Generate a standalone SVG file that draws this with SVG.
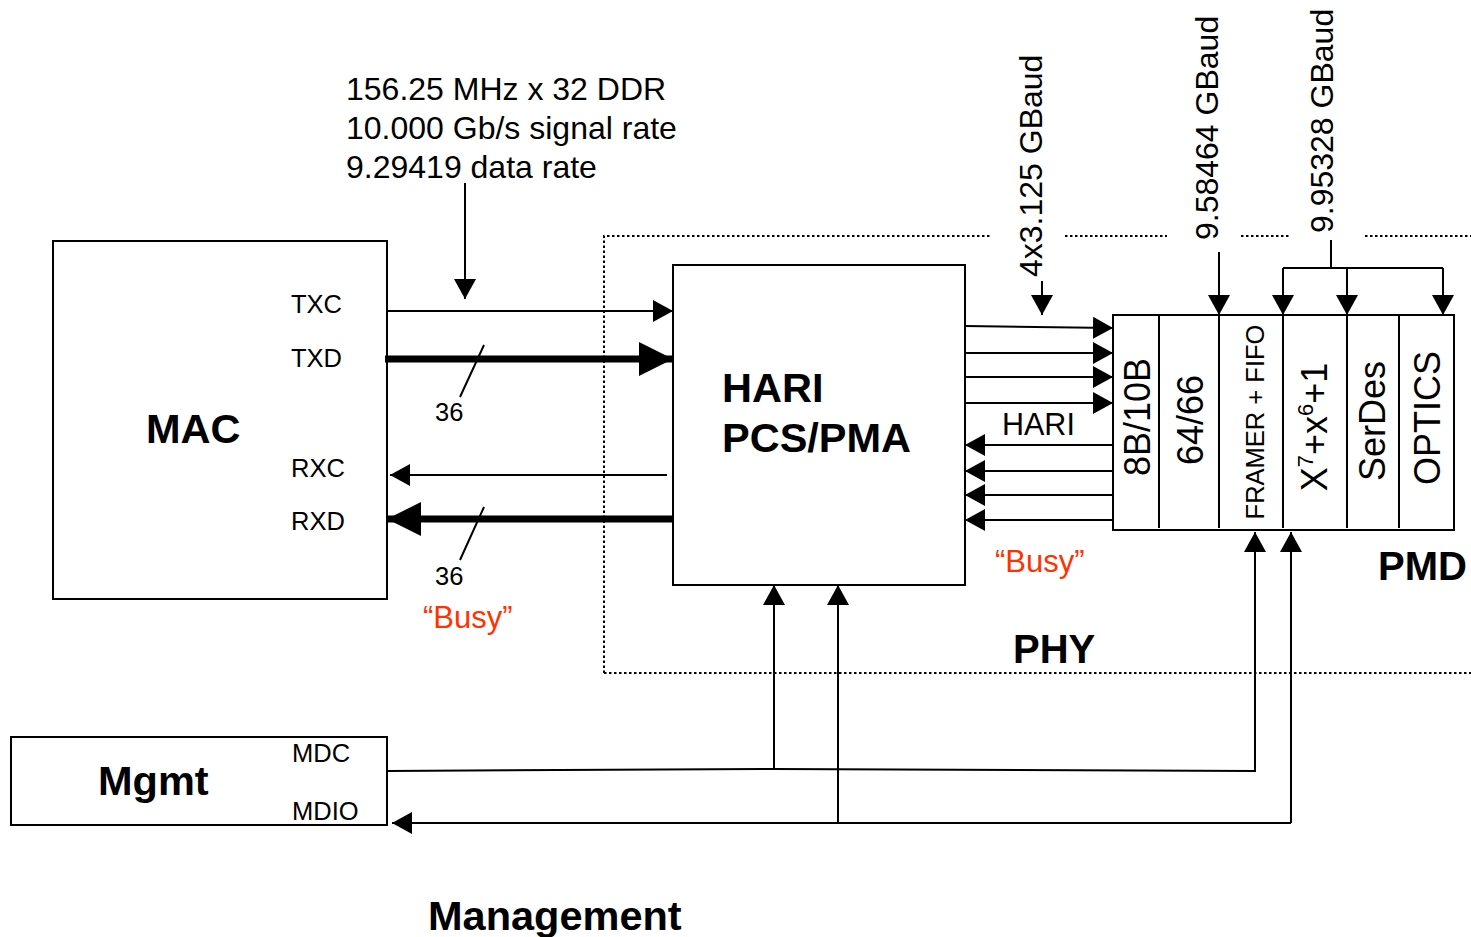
<svg xmlns="http://www.w3.org/2000/svg" width="1471" height="937" viewBox="0 0 1471 937">
<style>
text{font-family:"Liberation Sans",Arial,sans-serif;fill:#000}
.b{font-weight:bold;font-size:41.5px}
.b2{font-weight:bold;font-size:40px}
.lbl{font-size:25.5px}
.big{font-size:32px}
.col{font-size:36px}
.busy{font-size:31px;fill:#FF3300}
.box{fill:#fff;stroke:#000;stroke-width:2}
.ln{fill:none;stroke:#000;stroke-width:2}
.thk{fill:none;stroke:#000;stroke-width:7}
.dot{fill:none;stroke:#000;stroke-width:2;stroke-dasharray:2.5 2.5}
</style>
<defs>
<marker id="ah" markerWidth="20" markerHeight="22" refX="20" refY="11" orient="auto" markerUnits="userSpaceOnUse" viewBox="0 0 20 22"><path d="M0,0 L20,11 L0,22 z" fill="#000"/></marker>
<marker id="ahb" markerWidth="34" markerHeight="34" refX="34" refY="17" orient="auto" markerUnits="userSpaceOnUse" viewBox="0 0 34 34"><path d="M0,0 L34,17 L0,34 z" fill="#000"/></marker>
</defs>
<rect width="1471" height="937" fill="#fff"/>

<g id="phy-boundary">
<path class="dot" d="M604,673 V236 H990 M1065,236 H1167 M1241,236 H1291 M1365,236 H1471 M604,673 H1471"/>
<text class="b2" x="1013" y="663">PHY</text>
</g>

<g id="mac">
<rect class="box" x="53" y="241" width="334" height="358"/>
<text class="b" x="146" y="443">MAC</text>
<text class="lbl" x="291" y="313">TXC</text>
<text class="lbl" x="291" y="367">TXD</text>
<text class="lbl" x="291" y="477">RXC</text>
<text class="lbl" x="291" y="530">RXD</text>
</g>

<g id="hari">
<rect class="box" x="673" y="265" width="292" height="320"/>
<text class="b" x="722" y="402">HARI</text>
<text class="b" x="722" y="452">PCS/PMA</text>
</g>

<g id="pmd">
<rect class="box" x="1113" y="315" width="341" height="215"/>
<path class="ln" d="M1159,315 V528 M1219,315 V528 M1283,315 V528 M1347,315 V528 M1399,315 V528"/>
<text class="col" text-anchor="middle" x="1150" y="417" transform="rotate(-90 1150 417)">8B/10B</text>
<text class="col" text-anchor="middle" x="1203" y="420" transform="rotate(-90 1203 420)">64/66</text>
<text class="lbl" text-anchor="middle" x="1264" y="422" transform="rotate(-90 1264 422)">FRAMER + FIFO</text>
<text class="col" text-anchor="middle" x="1327" y="427" transform="rotate(-90 1327 427)">X<tspan font-size="22" dy="-14">7</tspan><tspan dy="14">+x</tspan><tspan font-size="22" dy="-14">6</tspan><tspan dy="14">+1</tspan></text>
<text class="col" text-anchor="middle" x="1385" y="421" transform="rotate(-90 1385 421)">SerDes</text>
<text class="col" text-anchor="middle" x="1440" y="418" transform="rotate(-90 1440 418)">OPTICS</text>
<text class="b2" x="1378" y="580">PMD</text>
</g>

<g id="mgmt">
<rect class="box" x="11" y="737" width="376" height="88"/>
<text class="b" x="98" y="795">Mgmt</text>
<text class="lbl" x="292" y="762">MDC</text>
<text class="lbl" x="292" y="820">MDIO</text>
</g>

<g id="labels">
<text class="big" x="346" y="100">156.25 MHz x 32 DDR</text>
<text class="big" x="346" y="139">10.000 Gb/s signal rate</text>
<text class="big" x="346" y="178">9.29419 data rate</text>
<text class="lbl" x="435" y="421">36</text>
<text class="lbl" x="435" y="585">36</text>
<text class="busy" x="423" y="628">“Busy”</text>
<text class="busy" x="995" y="572">“Busy”</text>
<text class="big" style="font-size:30.5px" x="1002" y="435">HARI</text>
<text class="big" x="1042" y="277" transform="rotate(-90 1042 277)">4x3.125 GBaud</text>
<text class="big" x="1218" y="240" transform="rotate(-90 1218 240)">9.58464 GBaud</text>
<text class="big" x="1333" y="233" transform="rotate(-90 1333 233)">9.95328 GBaud</text>
<text class="b" x="428" y="930">Management</text>
</g>

<g id="connectors">
<path class="ln" d="M465,183 V299" marker-end="url(#ah)"/>
<path class="ln" d="M387,311 H673" marker-end="url(#ah)"/>
<path class="thk" d="M385,359 H673" marker-end="url(#ahb)"/>
<path class="ln" d="M667,475 H390" marker-end="url(#ah)"/>
<path class="thk" d="M673,519 H387" marker-end="url(#ahb)"/>
<path class="ln" d="M484,345 L460,397 M484,507 L460,560"/>
<path class="ln" d="M965,326 L1113,328" marker-end="url(#ah)"/>
<path class="ln" d="M965,353 H1113" marker-end="url(#ah)"/>
<path class="ln" d="M965,377 H1113" marker-end="url(#ah)"/>
<path class="ln" d="M965,403 H1113" marker-end="url(#ah)"/>
<path class="ln" d="M1113,445 H965" marker-end="url(#ah)"/>
<path class="ln" d="M1113,471 H965" marker-end="url(#ah)"/>
<path class="ln" d="M1113,495 H965" marker-end="url(#ah)"/>
<path class="ln" d="M1113,520 H965" marker-end="url(#ah)"/>
<path class="ln" d="M1042,281 V315" marker-end="url(#ah)"/>
<path class="ln" d="M1219,252 V315" marker-end="url(#ah)"/>
<path class="ln" d="M1331,240 V268 M1283,268 H1443"/>
<path class="ln" d="M1283,268 V315" marker-end="url(#ah)"/>
<path class="ln" d="M1347,268 V315" marker-end="url(#ah)"/>
<path class="ln" d="M1443,268 V315" marker-end="url(#ah)"/>
<path class="ln" d="M387,771 L774,769 L1255,771 V532" marker-end="url(#ah)"/>
<path class="ln" d="M774,769 V585" marker-end="url(#ah)"/>
<path class="ln" d="M1291,823 V532" marker-end="url(#ah)"/>
<path class="ln" d="M1291,823 H392" marker-end="url(#ah)"/>
<path class="ln" d="M838,823 V585" marker-end="url(#ah)"/>
</g>
</svg>
